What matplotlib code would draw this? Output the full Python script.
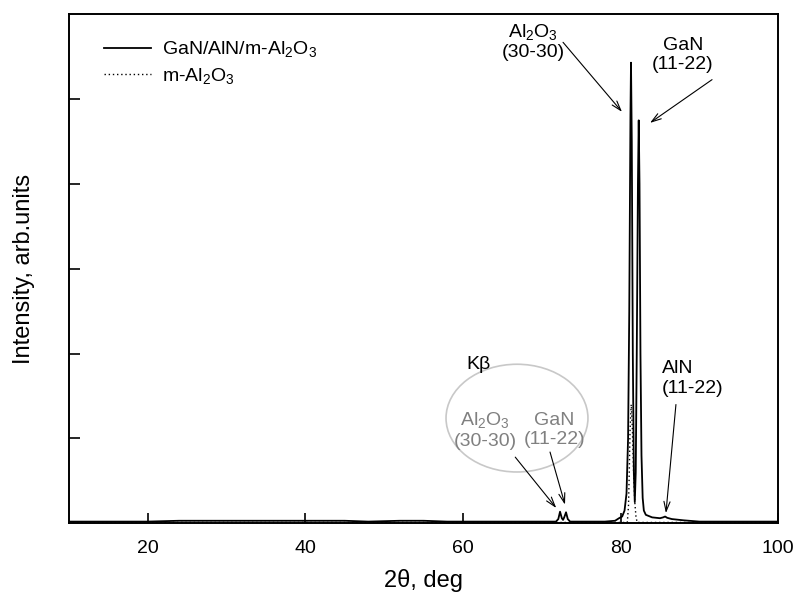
import matplotlib
matplotlib.use('Agg')
import matplotlib.pyplot as plt
from matplotlib.lines import Line2D
from matplotlib.patches import Ellipse

plt.rcParams['font.family'] = ['Liberation Sans', 'DejaVu Sans']
plt.rcParams['mathtext.fontset'] = 'custom'
plt.rcParams['mathtext.rm'] = 'Liberation Sans'
plt.rcParams['mathtext.it'] = 'Liberation Sans:italic'

# GaN/AlN/m-Al2O3 scan (2theta, intensity)
film_2theta = [10, 15, 20, 24, 30, 35, 40, 45, 48, 52, 55, 58, 62, 66, 70, 71.8,
               72.1, 72.32, 72.55, 72.7, 72.85, 73.08, 73.3, 73.6, 76, 78, 79.3,
               79.8, 80.2, 80.5, 80.75, 80.95, 81.1, 81.25, 81.32, 81.42, 81.55,
               81.68, 81.8, 81.92, 82.05, 82.2, 82.3, 82.4, 82.52, 82.65, 82.8,
               82.95, 83.2, 84, 85, 85.4, 85.65, 85.9, 86.5, 88, 90, 95, 100]
film_int = [0.02, 0.02, 0.02, 0.03, 0.03, 0.03, 0.03, 0.03, 0.02, 0.03, 0.03, 0.02,
            0.02, 0.02, 0.02, 0.02,
            0.05, 0.137, 0.06, 0.04, 0.07, 0.13, 0.05, 0.02, 0.02, 0.02, 0.03,
            0.06, 0.08, 0.15, 0.35, 1.0, 2.5, 4.8, 5.43, 4.5, 2.0,
            0.6, 0.25, 0.6, 2.0, 4.0, 4.75, 4.0, 2.0, 0.8, 0.3,
            0.15, 0.1, 0.07, 0.06, 0.07, 0.08, 0.065, 0.05, 0.035, 0.02, 0.02, 0.02]

# bare m-Al2O3 substrate scan
sub_2theta = [10, 40, 70, 80.5, 80.85, 81.0, 81.1, 81.2, 81.35, 81.5, 81.65, 81.8,
              81.95, 82.1, 90, 100]
sub_int = [0.01, 0.01, 0.01, 0.01, 0.01, 0.2, 0.6, 1.1, 1.4, 1.1, 0.6, 0.25,
           0.08, 0.01, 0.01, 0.01]

x_ticks = [20, 40, 60, 80, 100]
y_ticks = [1, 2, 3, 4, 5]

AL2O3 = r'Al$_\mathregular{2}$O$_\mathregular{3}$'
GRAY = '#808080'

fig = plt.figure(figsize=(7.94, 6.04), dpi=100)
ax = fig.add_axes([0.0865, 0.1336, 0.8937, 0.8427])

ax.plot(film_2theta, film_int, color='black', lw=1.3)
ax.plot(sub_2theta, sub_int, color='black', lw=1.0, ls=(0, (1, 2)))

ax.set_xlim(10, 100)
ax.set_ylim(0, 6)
ax.set_xticks(x_ticks)
ax.set_yticks(y_ticks)
ax.set_yticklabels([])
ax.tick_params(direction='in', length=7, width=1.2, labelsize=14, pad=12)
ax.tick_params(axis='y', length=8)
for s in ax.spines.values():
    s.set_linewidth(1.4)

ax.set_xlabel('2θ, deg', fontsize=17, labelpad=9)
ax.set_ylabel('Intensity, arb.units', fontsize=17, labelpad=12)

handles = [Line2D([], [], color='black', lw=1.3),
           Line2D([], [], color='black', lw=1.0, ls=(0, (1, 2)))]
ax.legend(handles, ['GaN/AlN/m-' + AL2O3, 'm-' + AL2O3], loc='upper left',
          bbox_to_anchor=(0.025, 0.985), frameon=False, fontsize=14,
          handlelength=2.4, handletextpad=0.6, labelspacing=0.35)

arrow = dict(arrowstyle='->, head_length=0.7, head_width=0.22', color='black',
             lw=0.8, shrinkA=0, shrinkB=0)

# main reflections
ax.text(68.89, 5.68, AL2O3 + '\n(30-30)', ha='center', va='center', fontsize=14,
        linespacing=1.2)
ax.annotate('', xy=(80.18, 4.85), xytext=(72.7, 5.67), arrowprops=arrow)
ax.text(87.92, 5.52, 'GaN\n(11-22)', ha='center', va='center', fontsize=14,
        linespacing=1.2)
ax.annotate('', xy=(83.73, 4.72), xytext=(91.6, 5.23), arrowprops=arrow)
ax.text(85.25, 1.71, 'AlN\n(11-22)', ha='left', va='center', fontsize=14,
        linespacing=1.2, multialignment='left')
ax.annotate('', xy=(85.75, 0.12), xytext=(87.02, 1.4), arrowprops=arrow)

# K-beta lines
ax.text(61.92, 1.87, 'Kβ', ha='center', va='center', fontsize=14)
ax.add_patch(Ellipse((66.86, 1.24), 18.0, 1.27, fill=False, ec='#c8c8c8', lw=1.2))
ax.text(62.8, 1.10, AL2O3 + '\n(30-30)', ha='center', va='center', fontsize=14,
        color=GRAY, linespacing=1.2)
ax.text(71.6, 1.10, 'GaN\n(11-22)', ha='center', va='center', fontsize=14,
        color=GRAY, linespacing=1.2)
ax.annotate('', xy=(71.84, 0.18), xytext=(66.64, 0.78), arrowprops=arrow)
ax.annotate('', xy=(72.95, 0.22), xytext=(71.05, 0.84), arrowprops=arrow)

fig.savefig('out.png', dpi=100)
